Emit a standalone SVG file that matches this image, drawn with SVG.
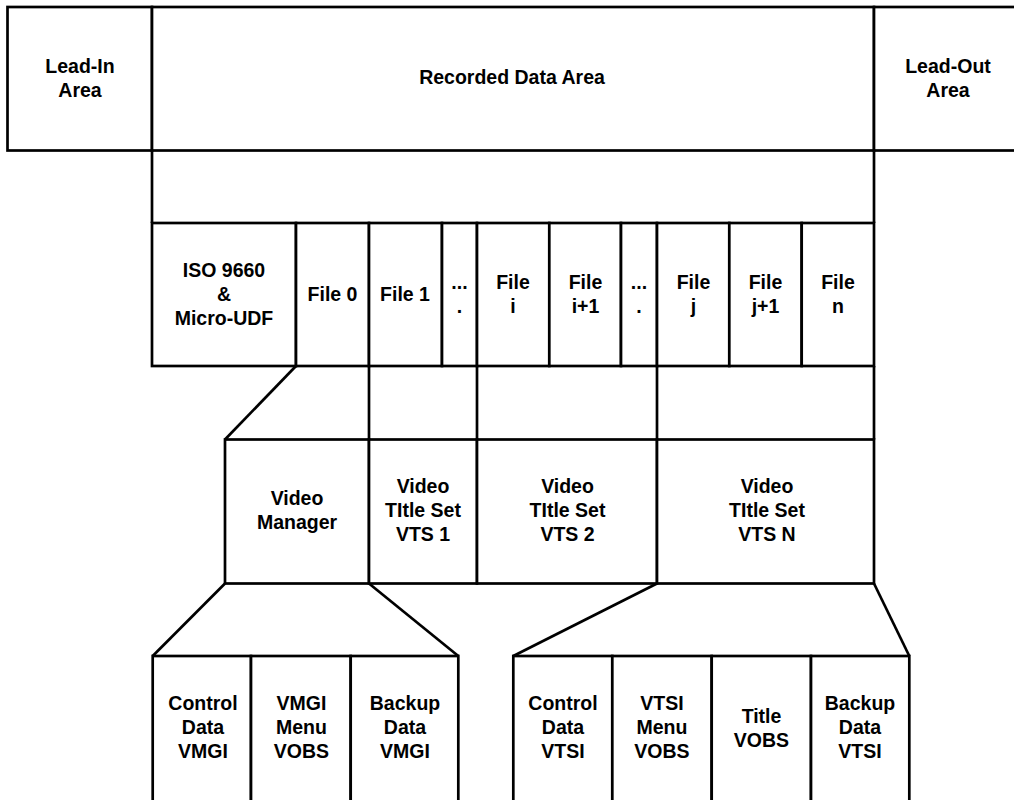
<svg xmlns="http://www.w3.org/2000/svg" width="1014" height="800" viewBox="0 0 1014 800">
<style>
rect, line { fill: #fff; stroke: #000; stroke-width: 2.7; }
line { fill: none; }
text { font-family: "Liberation Sans", Arial, sans-serif; font-weight: bold; font-size: 19.5px; fill: #000; text-anchor: middle; }
</style>
<rect x="0" y="0" width="1014" height="800" style="stroke:none;fill:#fff"/>
<g id="lead-in">
<rect x="7.5" y="7" width="144.5" height="143.5"/>
<text x="80" y="72.7">Lead-In</text>
<text x="80" y="96.7">Area</text>
</g>
<g id="recorded-data-area">
<rect x="152" y="7" width="722" height="143.5"/>
<text x="512" y="84">Recorded Data Area</text>
</g>
<g id="lead-out">
<rect x="874" y="7" width="200" height="143.5"/>
<text x="948" y="72.7">Lead-Out</text>
<text x="948" y="96.7">Area</text>
</g>
<g id="connectors">
<line x1="152" y1="150.5" x2="152" y2="223"/>
<line x1="874" y1="150.5" x2="874" y2="223"/>
<line x1="296" y1="366" x2="225" y2="439.5"/>
<line x1="369" y1="366" x2="369" y2="439.5"/>
<line x1="477" y1="366" x2="477" y2="439.5"/>
<line x1="657" y1="366" x2="657" y2="439.5"/>
<line x1="874" y1="366" x2="874" y2="439.5"/>
<line x1="225" y1="583.5" x2="152.7" y2="656"/>
<line x1="369" y1="583.5" x2="458.3" y2="656"/>
<line x1="657" y1="583.5" x2="513.3" y2="656"/>
<line x1="874" y1="583.5" x2="909.3" y2="656"/>
</g>
<g id="iso9660">
<rect x="152" y="223" width="144" height="143"/>
<text x="224" y="277">ISO 9660</text>
<text x="224" y="301">&amp;</text>
<text x="224" y="325">Micro-UDF</text>
</g>
<g id="file0">
<rect x="296" y="223" width="73" height="143"/>
<text x="332.5" y="301">File 0</text>
</g>
<g id="file1">
<rect x="369" y="223" width="73" height="143"/>
<text x="405" y="301">File 1</text>
</g>
<g id="dots1">
<rect x="442" y="223" width="35" height="143"/>
<text x="459.5" y="289">...</text>
<text x="459.5" y="313">.</text>
</g>
<g id="filei">
<rect x="477" y="223" width="72.3" height="143"/>
<text x="513" y="289">File</text>
<text x="513" y="313">i</text>
</g>
<g id="filei1">
<rect x="549.3" y="223" width="71.7" height="143"/>
<text x="585.5" y="289">File</text>
<text x="585.5" y="313">i+1</text>
</g>
<g id="dots2">
<rect x="621" y="223" width="36" height="143"/>
<text x="639" y="289">...</text>
<text x="639" y="313">.</text>
</g>
<g id="filej">
<rect x="657" y="223" width="72.3" height="143"/>
<text x="693.5" y="289">File</text>
<text x="693.5" y="313">j</text>
</g>
<g id="filej1">
<rect x="729.3" y="223" width="72.4" height="143"/>
<text x="765.5" y="289">File</text>
<text x="765.5" y="313">j+1</text>
</g>
<g id="filen">
<rect x="801.7" y="223" width="72.3" height="143"/>
<text x="838" y="289">File</text>
<text x="838" y="313">n</text>
</g>
<g id="video-manager">
<rect x="225" y="439.5" width="144" height="144"/>
<text x="297" y="505">Video</text>
<text x="297" y="529">Manager</text>
</g>
<g id="vts1">
<rect x="369" y="439.5" width="108" height="144"/>
<text x="423" y="493.3">Video</text>
<text x="423" y="517.3">TItle Set</text>
<text x="423" y="541">VTS 1</text>
</g>
<g id="vts2">
<rect x="477" y="439.5" width="180" height="144"/>
<text x="567.5" y="493.3">Video</text>
<text x="567.5" y="517.3">TItle Set</text>
<text x="567.5" y="541">VTS 2</text>
</g>
<g id="vtsn">
<rect x="657" y="439.5" width="217" height="144"/>
<text x="767" y="493.3">Video</text>
<text x="767" y="517.3">TItle Set</text>
<text x="767" y="541">VTS N</text>
</g>
<g id="control-data-vmgi">
<rect x="152.7" y="656" width="98.3" height="200"/>
<text x="203" y="710">Control</text>
<text x="203" y="734">Data</text>
<text x="203" y="757.5">VMGI</text>
</g>
<g id="vmgi-menu-vobs">
<rect x="251" y="656" width="99.7" height="200"/>
<text x="301.5" y="710">VMGI</text>
<text x="301.5" y="734">Menu</text>
<text x="301.5" y="757.5">VOBS</text>
</g>
<g id="backup-data-vmgi">
<rect x="350.7" y="656" width="107.6" height="200"/>
<text x="405" y="710">Backup</text>
<text x="405" y="734">Data</text>
<text x="405" y="757.5">VMGI</text>
</g>
<g id="control-data-vtsi">
<rect x="513.3" y="656" width="99" height="200"/>
<text x="563" y="710">Control</text>
<text x="563" y="734">Data</text>
<text x="563" y="757.5">VTSI</text>
</g>
<g id="vtsi-menu-vobs">
<rect x="612.3" y="656" width="99.4" height="200"/>
<text x="662" y="710">VTSI</text>
<text x="662" y="734">Menu</text>
<text x="662" y="757.5">VOBS</text>
</g>
<g id="title-vobs">
<rect x="711.7" y="656" width="99.3" height="200"/>
<text x="761.5" y="722.7">Title</text>
<text x="761.5" y="746.5">VOBS</text>
</g>
<g id="backup-data-vtsi">
<rect x="811" y="656" width="98.3" height="200"/>
<text x="860" y="710">Backup</text>
<text x="860" y="734">Data</text>
<text x="860" y="757.5">VTSI</text>
</g>
</svg>
